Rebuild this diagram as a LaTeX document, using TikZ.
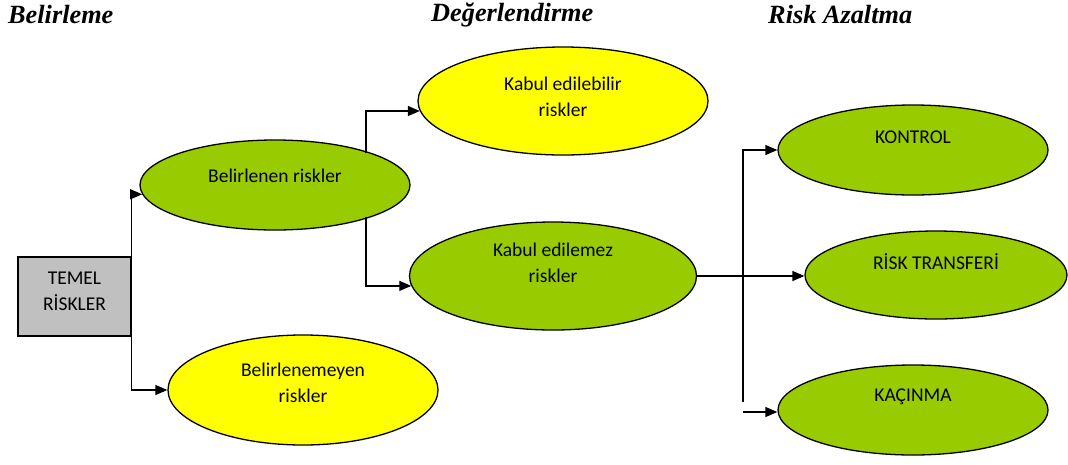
\documentclass[tikz,border=0pt]{standalone}
\usepackage{fontspec}
\setmainfont{Liberation Serif}
\newfontfamily\calfont{Carlito}
\usetikzlibrary{shapes.geometric,arrows.meta}
\definecolor{lgreen}{HTML}{99CC00}
\definecolor{lyellow}{HTML}{FFFF00}
\definecolor{lgray}{HTML}{C0C0C0}
\tikzset{
  ell/.style={ellipse,draw=black,line width=1.3pt,inner sep=0pt},
  gell/.style={ell,fill=lgreen},
  yell/.style={ell,fill=lyellow},
  txt/.style={font=\calfont\fontsize{19.5}{26}\selectfont,align=center,inner sep=0pt},
  hdr/.style={font=\bfseries\itshape\fontsize{26.3}{28}\selectfont,anchor=west,inner sep=0pt},
  arr/.style={line width=1.3pt,-{Triangle[length=12pt,width=10pt]}},
}
\begin{document}
\begin{tikzpicture}[x=1pt,y=-1pt]
\useasboundingbox (0,0) rectangle (1068,464);
% headers
\node[hdr] (h1) at (8,15) {Belirleme};
\node[hdr] (h2) at (431,15) {Değerlendirme};
\node[hdr] (h3) at (768,15) {Risk Azaltma};
% box
\node[draw=black,fill=lgray,line width=1.3pt,minimum width=113pt,minimum height=79pt,inner sep=0pt] (box) at (74.5,296.5) {};
\node[txt] (boxt) at (74.5,291) {TEMEL\\RİSKLER};
% ellipses
\node[gell,minimum width=270pt,minimum height=90pt] (br) at (275,185) {};
\node[txt] (brt) at (275,176) {Belirlenen riskler};
\node[yell,minimum width=270pt,minimum height=110pt] (bn) at (303,390) {};
\node[txt] (bnt) at (303,383) {Belirlenemeyen\\riskler};
\node[yell,minimum width=290pt,minimum height=108pt] (ke) at (563,101) {};
\node[txt] (ket) at (563,97) {Kabul edilebilir\\riskler};
\node[gell,minimum width=287pt,minimum height=108pt] (km) at (553,276) {};
\node[txt] (kmt) at (553,263) {Kabul edilemez\\riskler};
\node[gell,minimum width=270pt,minimum height=90pt] (ko) at (913,150) {};
\node[txt] (kot) at (913,137) {KONTROL};
\node[gell,minimum width=262pt,minimum height=88pt] (rt) at (936,275) {};
\node[txt] (rtt) at (936,262) {RİSK TRANSFERİ};
\node[gell,minimum width=270pt,minimum height=90pt] (kc) at (913,410) {};
\node[txt] (kct) at (913,397) {KAÇINMA};
% connectors
\draw[arr] (box.north east) |- (br.184);
\draw[arr] (box.south east) |- (bn.west);
\coordinate (j1) at (366,153);
\coordinate (j2) at (366,217);
\draw[arr] (j1) |- (ke.184);
\draw[arr] (j2) |- (km.184);
\draw[arr] (km.east) -- (km.east -| rt.west);
\coordinate (v1) at (743,402);
\coordinate (v2) at (743,412);
\draw[arr] (v1) |- (ko.west);
\draw[arr] (v2) -- (v2 -| kc.west);
\end{tikzpicture}
\end{document}
